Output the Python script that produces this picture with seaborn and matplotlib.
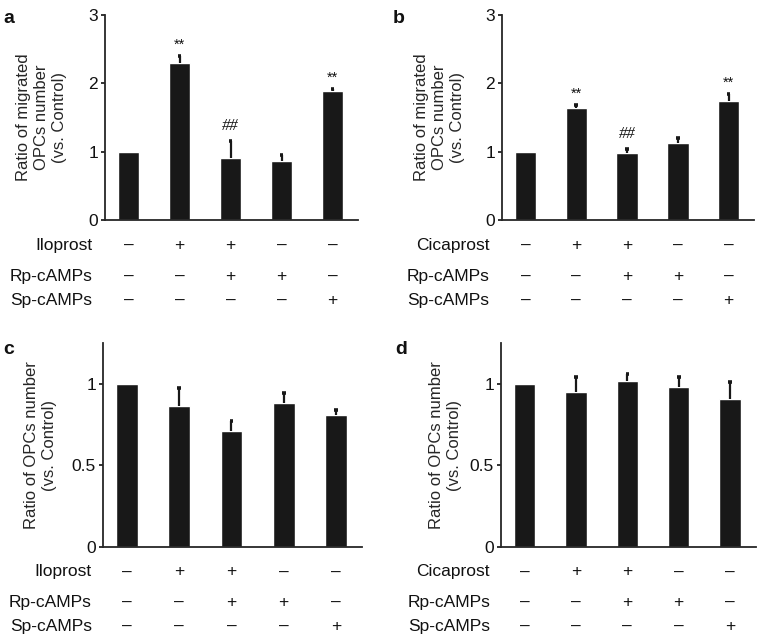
import numpy as np
import pandas as pd
import seaborn as sns
from matplotlib import pyplot as plt
from matplotlib import transforms

# ---- data ----
groups = ["G1", "G2", "G3", "G4", "G5"]

mig_ilo = [1.00, 2.30, 0.91, 0.87, 1.88]
mig_ilo_err = [0.00, 0.10, 0.25, 0.08, 0.04]
mig_cica = [1.00, 1.64, 0.98, 1.13, 1.74]
mig_cica_err = [0.00, 0.04, 0.06, 0.07, 0.10]
num_ilo = [1.00, 0.866, 0.71, 0.88, 0.81]
num_ilo_err = [0.00, 0.11, 0.06, 0.065, 0.03]
num_cica = [1.00, 0.95, 1.02, 0.98, 0.91]
num_cica_err = [0.00, 0.09, 0.04, 0.06, 0.10]

sig_ilo = ["", "**", "##", "", "**"]
sig_cica = ["", "**", "##", "", "**"]

agonist_on = [0, 1, 1, 0, 0]
rp_on = [0, 0, 1, 1, 0]
sp_on = [0, 0, 0, 0, 1]

BAR = "#181818"
FONT = ["Liberation Sans", "DejaVu Sans"]

sns.set_theme(style="ticks")
plt.rcParams["font.family"] = FONT
plt.rcParams["axes.linewidth"] = 1.3
plt.rcParams["text.color"] = "#111111"

fig = plt.figure(figsize=(7.58, 6.37), dpi=100)

panels = [
    # letter, axes rect, values, errs, sigs, agonist, ylabel, ylim, yticks, ylabel x, letter pos
    ("a", [0.1385, 0.6546, 0.334, 0.322], mig_ilo, mig_ilo_err, sig_ilo, "Iloprost",
     "Ratio of migrated\nOPCs number\n(vs. Control)", 3.0, [0, 1, 2, 3], ["0", "1", "2", "3"], -0.25, (0.004, 0.985)),
    ("b", [0.6623, 0.6546, 0.3325, 0.322], mig_cica, mig_cica_err, sig_cica, "Cicaprost",
     "Ratio of migrated\nOPCs number\n(vs. Control)", 3.0, [0, 1, 2, 3], ["0", "1", "2", "3"], -0.25, (0.518, 0.985)),
    ("c", [0.1359, 0.1413, 0.3417, 0.320], num_ilo, num_ilo_err, None, "Iloprost",
     "Ratio of OPCs number\n(vs. Control)", 1.25, [0, 0.5, 1], ["0", "0.5", "1"], -0.24, (0.004, 0.465)),
    ("d", [0.661, 0.1413, 0.336, 0.320], num_cica, num_cica_err, None, "Cicaprost",
     "Ratio of OPCs number\n(vs. Control)", 1.25, [0, 0.5, 1], ["0", "0.5", "1"], -0.22, (0.522, 0.465)),
]

row_y = [-0.122, -0.273, -0.39]

for letter, rect, vals, errs, sigs, agonist, ylab, ytop, yt, ytl, ylx, lpos in panels:
    ax = fig.add_axes(rect)
    df = pd.DataFrame({"group": groups, "value": vals})
    sns.barplot(data=df, x="group", y="value", order=groups, color=BAR,
                saturation=1, width=0.42, errorbar=None, ax=ax)

    # upper-only error bars (SEM)
    xs = np.arange(len(groups))
    v = np.asarray(vals)
    e = np.asarray(errs)
    has = e > 0
    ax.vlines(xs[has], v[has], v[has] + e[has], color=BAR, lw=1.6)
    ax.hlines(v[has] + e[has], xs[has] - 0.035, xs[has] + 0.035, color=BAR, lw=2.6)

    ax.set_xlim(-0.46, 4.5)
    ax.set_ylim(0, ytop)
    ax.set_yticks(yt)
    ax.set_yticklabels(ytl, fontsize=12.5)
    ax.tick_params(axis="y", length=3, width=1.2, pad=2, colors="#111111")
    ax.tick_params(axis="x", bottom=False, labelbottom=False)
    ax.set_xlabel("")
    ax.set_ylabel(ylab, fontsize=12, linespacing=1.25, va="center")
    ax.yaxis.set_label_coords(ylx, 0.5)
    sns.despine(ax=ax)

    # significance marks
    if sigs is not None:
        for i, s in enumerate(sigs):
            if not s:
                continue
            if s == "##":
                ax.annotate(s, (i, vals[i] + errs[i]), xytext=(0, 5), textcoords="offset points",
                            ha="center", va="bottom", fontsize=12, style="italic",
                            family=["Liberation Serif", "DejaVu Serif"])
            else:
                ax.annotate(s, (i, vals[i] + errs[i]), xytext=(0, 3), textcoords="offset points",
                            ha="center", va="bottom", fontsize=10.5)

    # condition table under the axis
    trans = transforms.blended_transform_factory(ax.transData, ax.transAxes)
    rows = [(agonist, agonist_on), ("Rp-cAMPs", rp_on), ("Sp-cAMPs", sp_on)]
    for (name, flags), ry in zip(rows, row_y):
        ax.text(-0.05 if letter in "ab" else -0.043, ry, name, transform=ax.transAxes,
                ha="right", va="center", fontsize=12.5)
        for i, f in enumerate(flags):
            ax.text(i, ry, "+" if f else "–", transform=trans, ha="center", va="center",
                    fontsize=12.5)

    fig.text(lpos[0], lpos[1], letter, fontsize=14, fontweight="bold", va="top", ha="left")

fig.savefig("out.png", dpi=100)
